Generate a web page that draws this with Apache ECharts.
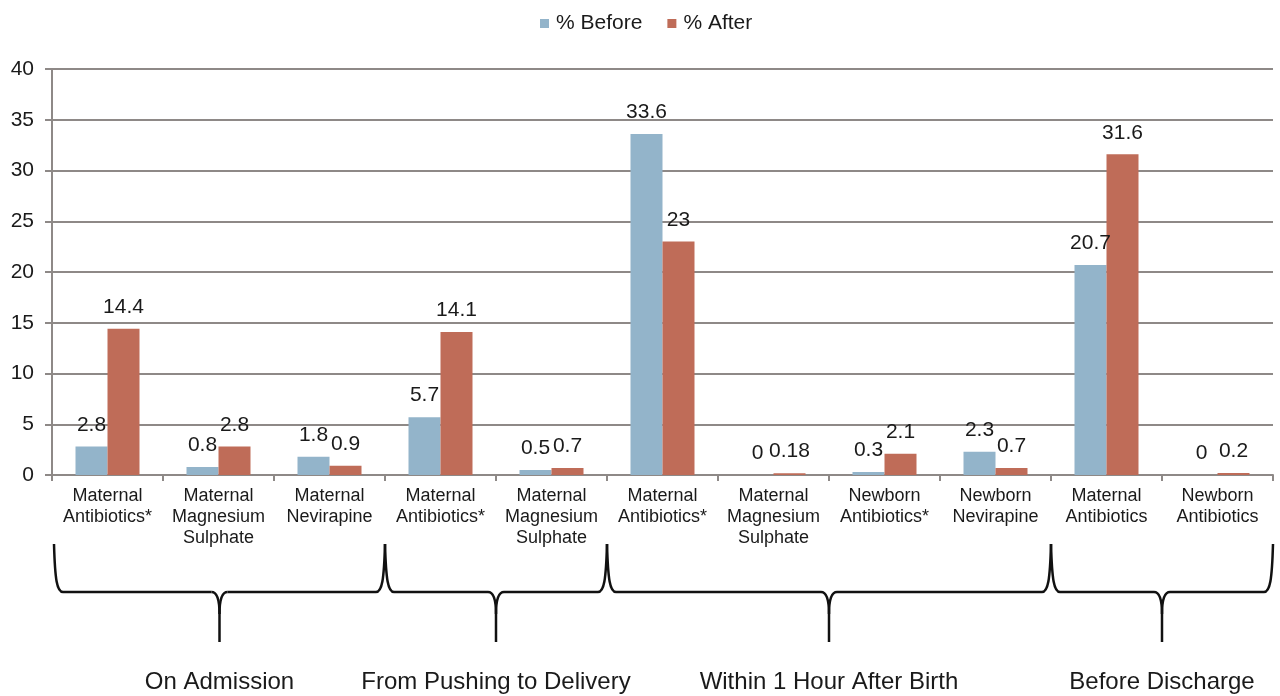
<!DOCTYPE html>
<html>
<head>
<meta charset="utf-8">
<script src="https://cdn.jsdelivr.net/npm/echarts@6/dist/echarts.min.js"></script>
<style>
html,body{margin:0;padding:0;background:#fff;}
#c{width:1280px;height:696px;}
</style>
</head>
<body>
<div id="c"></div>
<script>
var categories = [
  'Maternal\nAntibiotics*', 'Maternal\nMagnesium\nSulphate', 'Maternal\nNevirapine',
  'Maternal\nAntibiotics*', 'Maternal\nMagnesium\nSulphate',
  'Maternal\nAntibiotics*', 'Maternal\nMagnesium\nSulphate', 'Newborn\nAntibiotics*', 'Newborn\nNevirapine',
  'Maternal\nAntibiotics', 'Newborn\nAntibiotics'
];
var seriesNames = ['% Before', '% After'];
var before = [2.8, 0.8, 1.8, 5.7, 0.5, 33.6, 0, 0.3, 2.3, 20.7, 0];
var after = [14.4, 2.8, 0.9, 14.1, 0.7, 23, 0.18, 2.1, 0.7, 31.6, 0.2];
var yTicks = [0, 5, 10, 15, 20, 25, 30, 35, 40];
var groupNames = ['On Admission', 'From Pushing to Delivery', 'Within 1 Hour After Birth', 'Before Discharge'];
var groupStart = [0, 3, 5, 9];
var groupEnd = [2, 4, 8, 10];

var FONT = '"Liberation Sans", Arial, sans-serif';
var TXT = '#1a1a1a';
var GRAY = '#8e8987';

var chart = echarts.init(document.getElementById('c'));
var labelStyle = {
  show: true, position: 'top', distance: 11,
  fontFamily: FONT, fontSize: 21, color: TXT
};
chart.setOption({
  animation: false,
  legend: {
    data: seriesNames,
    top: 8, left: 535,
    icon: 'rect', itemWidth: 9, itemHeight: 9, itemGap: 25,
    textStyle: { fontFamily: FONT, fontSize: 21, color: TXT, padding: [0, 0, 0, 2] }
  },
  grid: { left: 52, right: 7, top: 69, bottom: 221, containLabel: false },
  xAxis: {
    type: 'category',
    data: categories,
    axisLine: { lineStyle: { color: GRAY, width: 2 } },
    axisTick: { show: true, length: 6, lineStyle: { color: GRAY, width: 2 } },
    axisLabel: { interval: 0, margin: 11, fontFamily: FONT, fontSize: 18, lineHeight: 21, color: TXT }
  },
  yAxis: {
    type: 'value',
    min: yTicks[0], max: yTicks[yTicks.length - 1], interval: 5,
    axisLine: { show: true, lineStyle: { color: GRAY, width: 2 } },
    axisTick: { show: true, length: 7, lineStyle: { color: GRAY, width: 2 } },
    splitLine: { lineStyle: { color: GRAY, width: 2 } },
    axisLabel: { margin: 18, fontFamily: FONT, fontSize: 21, color: TXT }
  },
  series: [
    { name: seriesNames[0], type: 'bar', data: before, barWidth: 32, barGap: '0%',
      itemStyle: { color: '#93b4ca' }, label: labelStyle },
    { name: seriesNames[1], type: 'bar', data: after, barWidth: 32, barGap: '0%',
      itemStyle: { color: '#bf6c58' }, label: labelStyle }
  ]
});

// Braces and group labels beneath the axis, positioned from the category scale
var c0 = chart.convertToPixel({ xAxisIndex: 0 }, 0);
var c1 = chart.convertToPixel({ xAxisIndex: 0 }, 1);
var bw = c1 - c0;
var topY = 544, hY = 592, botY = 642, labelY = 682;
var stroke = { stroke: '#111', lineWidth: 2.5, fill: null };
var elements = [];
function curve(x1, y1, cx1, cy1, cx2, cy2, x2, y2) {
  elements.push({ type: 'bezierCurve', silent: true,
    shape: { x1: x1, y1: y1, cpx1: cx1, cpy1: cy1, cpx2: cx2, cpy2: cy2, x2: x2, y2: y2 },
    style: stroke });
}
function seg(x1, y1, x2, y2) {
  elements.push({ type: 'line', silent: true,
    shape: { x1: x1, y1: y1, x2: x2, y2: y2 }, style: stroke });
}
for (var g = 0; g < groupNames.length; g++) {
  var x0 = chart.convertToPixel({ xAxisIndex: 0 }, groupStart[g]) - bw / 2;
  var x1 = chart.convertToPixel({ xAxisIndex: 0 }, groupEnd[g]) + bw / 2;
  if (g === 0) x0 += 2;
  var m = (x0 + x1) / 2;
  curve(x0, topY, x0 + 1, hY - 12, x0 + 3, hY, x0 + 9, hY);
  seg(x0 + 9, hY, m - 8, hY);
  curve(m - 8, hY, m - 2, hY, m, hY + 8, m, hY + 22);
  seg(m, hY + 22, m, botY);
  curve(m + 8, hY, m + 2, hY, m, hY + 8, m, hY + 22);
  seg(m + 8, hY, x1 - 9, hY);
  curve(x1 - 9, hY, x1 - 3, hY, x1 - 1, hY - 12, x1, topY);
  elements.push({
    type: 'text', silent: true,
    x: m, y: labelY,
    style: { text: groupNames[g], fontFamily: FONT, fontSize: 24, fill: TXT, align: 'center', verticalAlign: 'middle' }
  });
}
chart.setOption({ graphic: elements });
</script>
</body>
</html>
